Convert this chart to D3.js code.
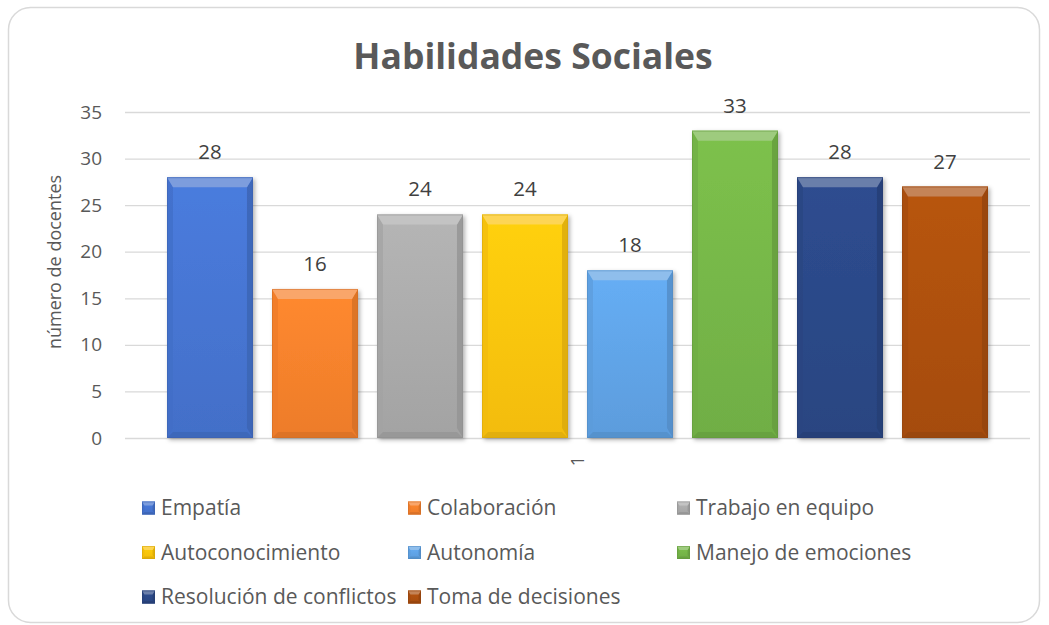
<!DOCTYPE html>
<html>
<head>
<meta charset="utf-8">
<script src="https://cdn.jsdelivr.net/npm/d3@7"></script>
<style>
    body { margin: 0; background: #fff; }
    text { font-family: "Open Sans", sans-serif; }
</style>
</head>
<body>
<svg id="chart" width="1049" height="625"></svg>
<script>
const categories = ["Empatía", "Colaboración", "Trabajo en equipo", "Autoconocimiento",
    "Autonomía", "Manejo de emociones", "Resolución de conflictos", "Toma de decisiones"]
const values = [28, 16, 24, 24, 18, 33, 28, 27]
const colors = ["#4573cf", "#f6802c", "#a9a9a9", "#fcc30a", "#5fa2e4", "#74b447", "#2b4886", "#ab4f10"]
const yTicks = [0, 5, 10, 15, 20, 25, 30, 35]
const xLabel = "1"

let svg = d3.select("#chart")
let margin = { top: 112, right: 19, bottom: 187, left: 125 }
let width = 1049 - margin.left - margin.right
let height = 625 - margin.top - margin.bottom

// card background
svg.append("rect")
    .attr("x", 8.5).attr("y", 7.5)
    .attr("width", 1031).attr("height", 615)
    .attr("rx", 22).attr("ry", 22)
    .style("fill", "#fff")
    .style("stroke", "#d9d9d9")
    .style("stroke-width", 1.5)

let defs = svg.append("defs")
let shadow = defs.append("filter").attr("id", "shadow")
    .attr("x", "-10%").attr("y", "-10%").attr("width", "130%").attr("height", "130%")
shadow.append("feDropShadow")
    .attr("dx", 2).attr("dy", 2).attr("stdDeviation", 2)
    .attr("flood-color", "#000").attr("flood-opacity", 0.3)

colors.forEach((c, i) => {
    let grad = defs.append("linearGradient").attr("id", "grad" + i)
        .attr("x1", 0).attr("y1", 0).attr("x2", 0).attr("y2", 1)
    grad.append("stop").attr("offset", "0%").attr("stop-color", d3.color(c).brighter(0.2))
    grad.append("stop").attr("offset", "100%").attr("stop-color", d3.color(c).darker(0.1))
})

let yScale = d3.scaleLinear()
    .domain([0, 35])
    .range([height, 0])

let xScale = d3.scaleBand()
    .domain(categories)
    .range([0, width])
    .paddingInner(0.181)
    .paddingOuter(0.4)

let g = svg.append("g")
    .attr("transform", "translate(" + margin.left + "," + margin.top + ")")

let yAxis = d3.axisLeft(yScale)
    .tickValues(yTicks)
    .tickSize(-width)
    .tickPadding(23)

let gY = g.append("g").call(yAxis)
gY.select(".domain").remove()
gY.selectAll(".tick line").style("stroke", "#d9d9d9").style("stroke-width", 1.3)
gY.selectAll(".tick text")
    .style("font-size", "19px")
    .style("fill", "#595959")
    .style("font-family", "'Open Sans', sans-serif")

// category label
g.append("text")
    .attr("transform", "translate(" + (width / 2) + "," + (height + 23) + ") rotate(-90)")
    .attr("dy", "0.35em")
    .style("text-anchor", "middle")
    .style("font-size", "18px")
    .style("fill", "#595959")
    .text(xLabel)

// bevelled box, like the office "angle" bevel
function bevelBox(sel, x, y, w, h, i, b) {
    let c = d3.color(colors[i])
    b = Math.min(b, h / 2, w / 2)
    let s = b * 0.6
    let top = d3.interpolateRgb(c, "#fff")(0.3)
    let poly = pts => pts.map(p => p.join(",")).join(" ")
    sel.append("rect")
        .attr("x", x).attr("y", y).attr("width", w).attr("height", h)
        .style("fill", "url(#grad" + i + ")")
    sel.append("polygon")
        .attr("points", poly([[x, y], [x + s, y + b], [x + s, y + h - b], [x, y + h]]))
        .style("fill", c.darker(0.12)).style("opacity", 0.7)
    sel.append("polygon")
        .attr("points", poly([[x + w, y], [x + w, y + h], [x + w - s, y + h - b], [x + w - s, y + b]]))
        .style("fill", c.darker(0.4)).style("opacity", 0.8)
    sel.append("polygon")
        .attr("points", poly([[x, y + h], [x + s, y + h - b * 0.6], [x + w - s, y + h - b * 0.6], [x + w, y + h]]))
        .style("fill", c.darker(0.3))
    sel.append("polygon")
        .attr("points", poly([[x, y], [x + w, y], [x + w - s, y + b], [x + s, y + b]]))
        .style("fill", top)
    sel.append("rect")
        .attr("x", x + 0.5).attr("y", y + 0.5).attr("width", w - 1).attr("height", h - 1)
        .style("fill", "none")
        .style("stroke", c.darker(0.5))
        .style("stroke-opacity", 0.5)
        .style("stroke-width", 1)
}

let bars = g.append("g")
categories.forEach((cat, i) => {
    let bg = bars.append("g").attr("filter", "url(#shadow)")
    let x = xScale(cat)
    let y = yScale(values[i])
    bevelBox(bg, x, y, xScale.bandwidth(), height - y, i, 10)
})

g.selectAll(".label")
    .data(values)
    .enter().append("text")
    .attr("class", "label")
    .attr("x", (d, i) => xScale(categories[i]) + xScale.bandwidth() / 2)
    .attr("y", d => yScale(d) - 18)
    .style("text-anchor", "middle")
    .style("font-size", "20.5px")
    .style("fill", "#404040")
    .text(d => d)

// axis title
svg.append("text")
    .attr("transform", "translate(55,262) rotate(-90)")
    .attr("dy", "0.35em")
    .style("text-anchor", "middle")
    .style("font-size", "18px")
    .style("fill", "#595959")
    .text("número de docentes")

// title
svg.append("text")
    .attr("x", 533)
    .attr("y", 69)
    .style("text-anchor", "middle")
    .style("font-size", "35.5px")
    .style("font-weight", "bold")
    .style("fill", "#595959")
    .text("Habilidades Sociales")

// legend
let legendX = [142, 408, 677]
let legendY = [508, 552.5, 597]
let legend = svg.append("g")
categories.forEach((cat, i) => {
    let lx = legendX[i % 3]
    let ly = legendY[Math.floor(i / 3)]
    let item = legend.append("g")
    bevelBox(item, lx, ly - 6.5, 13, 13, i, 4)
    item.append("text")
        .attr("x", lx + 19)
        .attr("y", ly)
        .attr("dy", "0.35em")
        .style("font-size", "21px")
        .style("fill", "#595959")
        .text(cat)
})
</script>
</body>
</html>
